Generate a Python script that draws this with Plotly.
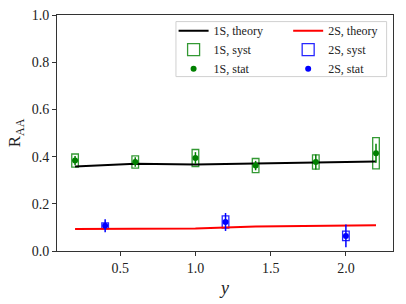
import plotly.graph_objects as go

# ---- data ----
y_theory = [0.2, 0.6, 1.0, 1.4, 1.8, 2.2]
raa_1s_theory = [0.358, 0.370, 0.366, 0.370, 0.375, 0.379]
raa_2s_theory = [0.093, 0.095, 0.095, 0.104, 0.107, 0.109]

y_1s = [0.2, 0.6, 1.0, 1.4, 1.8, 2.2]
raa_1s = [0.383, 0.377, 0.394, 0.362, 0.377, 0.414]
stat_1s = [0.020, 0.020, 0.025, 0.020, 0.032, 0.040]
syst_1s = [0.028, 0.026, 0.036, 0.030, 0.030, 0.066]

y_2s = [0.4, 1.2, 2.0]
raa_2s = [0.107, 0.123, 0.064]
stat_2s = [0.028, 0.038, 0.048]
syst_2s = [0.012, 0.026, 0.020]

box_width = 0.044

FONT = "Liberation Serif, DejaVu Serif, serif"

fig = go.Figure()

# 1S group (legend)
fig.add_trace(go.Scatter(x=y_theory, y=raa_1s_theory, mode="lines",
                         line=dict(color="black", width=2), name="1S, theory",
                         legend="legend"))
fig.add_trace(go.Bar(x=y_1s, y=[2 * s for s in syst_1s],
                     base=[v - s for v, s in zip(raa_1s, syst_1s)],
                     width=box_width,
                     marker=dict(color="rgba(0,0,0,0)",
                                 line=dict(color="rgba(0,128,0,0.8)", width=1.3)),
                     name="1S, syst", legend="legend"))
fig.add_trace(go.Scatter(x=y_1s, y=raa_1s, mode="markers",
                         marker=dict(color="#008000", size=6),
                         error_y=dict(type="data", array=stat_1s, color="#008000",
                                      thickness=1.5, width=0),
                         name="1S, stat", legend="legend"))

# 2S group (legend2)
fig.add_trace(go.Scatter(x=y_theory, y=raa_2s_theory, mode="lines",
                         line=dict(color="#ff0000", width=2), name="2S, theory",
                         legend="legend2"))
fig.add_trace(go.Bar(x=y_2s, y=[2 * s for s in syst_2s],
                     base=[v - s for v, s in zip(raa_2s, syst_2s)],
                     width=box_width,
                     marker=dict(color="rgba(0,0,0,0)",
                                 line=dict(color="rgba(0,0,255,0.85)", width=1.3)),
                     name="2S, syst", legend="legend2"))
fig.add_trace(go.Scatter(x=y_2s, y=raa_2s, mode="markers",
                         marker=dict(color="#0000ff", size=6),
                         error_y=dict(type="data", array=stat_2s, color="#0000ff",
                                      thickness=1.5, width=0),
                         name="2S, stat", legend="legend2"))

leg_common = dict(bgcolor="rgba(0,0,0,0)", borderwidth=0,
                  font=dict(family=FONT, size=12, color="#222"),
                  yanchor="top", xanchor="left", tracegroupgap=0)

fig.update_layout(
    width=406, height=304,
    margin=dict(l=57, r=13, t=15, b=53, autoexpand=False),
    plot_bgcolor="white", paper_bgcolor="white",
    font=dict(family=FONT, size=14, color="#222"),
    showlegend=True, barmode="overlay",
    legend=dict(x=0.347, y=0.995, **leg_common),
    legend2=dict(x=0.688, y=0.995, **leg_common),
    shapes=[dict(type="rect", xref="paper", yref="paper",
                 x0=0.354, x1=0.981, y0=0.739, y1=0.972,
                 line=dict(color="#d0d0d0", width=1),
                 fillcolor="rgba(255,255,255,0.8)", layer="below")],
)

axis_common = dict(showgrid=False, zeroline=False, showline=True, mirror=True,
                   linecolor="#333", linewidth=1, ticks="outside", ticklen=4,
                   tickcolor="#333", automargin=False,
                   tickfont=dict(family=FONT, size=14, color="#222"))

fig.update_xaxes(range=[0.08, 2.313], tickvals=[0.5, 1.0, 1.5, 2.0],
                 ticktext=["0.5", "1.0", "1.5", "2.0"],
                 title=dict(text="<i>y</i>", font=dict(family=FONT, size=18), standoff=6),
                 **axis_common)
fig.update_yaxes(range=[0, 1.0], tickvals=[0, 0.2, 0.4, 0.6, 0.8, 1.0],
                 ticktext=["0.0", "0.2", "0.4", "0.6", "0.8", "1.0"],
                 title=dict(text="R<sub>AA</sub>", font=dict(family=FONT, size=17), standoff=6),
                 **axis_common)

fig.write_html("out.html",
               config={"displayModeBar": False},
               post_script="document.body.style.margin='0';"
                           "document.body.style.overflow='hidden';")
